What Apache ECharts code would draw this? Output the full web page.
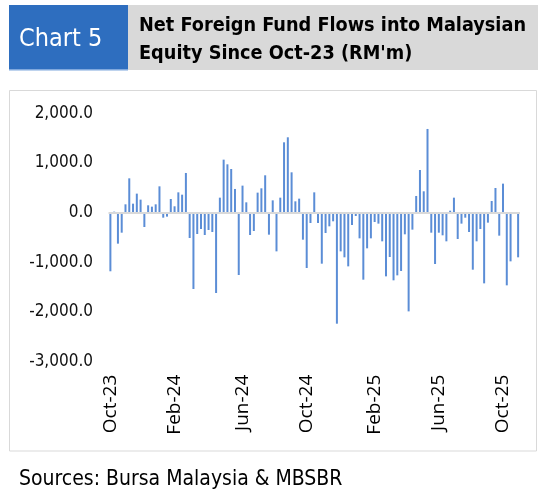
<!DOCTYPE html>
<html>
<head>
<meta charset="utf-8">
<script src="https://cdn.jsdelivr.net/npm/echarts@6/dist/echarts.min.js"></script>
<style>
html,body{margin:0;padding:0;background:#fff;}
#c{width:557px;height:499px;}
</style>
</head>
<body>
<div id="c"></div>
<script>
// Weekly net foreign fund flows (RM'm), first week Oct-23 onwards
var flows = [
  -1180, 20, -624, -403, 168, 691, 181, 383, 262, -289,
  148, 121, 168, 530, -101, -80, 275, 128, 409, 362,
  799, -510, -1537, -430, -329, -450, -349, -389, -1617, 302,
  1067, 973, 879, 477, -1255, 544, 208, -450, -369, 403,
  490, 752, -443, 248, -779, 302, 1416, 1517, 812, 228,
  282, -544, -1114, -208, 409, -208, -1027, -409, -275, -174,
  -2235, -779, -899, -1081, -248, -67, -517, -1349, -718, -517,
  -188, -221, -577, -1282, -893, -1362, -1262, -1174, -436, -1987,
  -342, 336, 859, 430, 1685, -403, -1034, -403, -456, -577,
  40, 302, -530, -221, -101, -389, -1148, -577, -329, -1423,
  -201, 235, 497, -463, 584, -1463, -980, -10, -899
];
var tickLabels = ['Oct-23', 'Feb-24', 'Jun-24', 'Oct-24', 'Feb-25', 'Jun-25', 'Oct-25'];
var tickIndex = [0, 17, 35, 52, 70, 87, 104];
var yTicks = [-3000, -2000, -1000, 0, 1000, 2000];

// weekly category dates
var weeks = [];
(function () {
  var d = new Date(Date.UTC(2023, 9, 6));
  for (var i = 0; i < flows.length; i++) {
    weeks.push(d.toISOString().slice(0, 10));
    d = new Date(d.getTime() + 7 * 86400000);
  }
})();

var FONT = "'DejaVu Sans Condensed', 'DejaVu Sans', sans-serif";
var chart = echarts.init(document.getElementById('c'), null, {renderer: 'canvas'});
chart.setOption({
  backgroundColor: '#ffffff',
  animation: false,
  graphic: [
    {type: 'rect', shape: {x: 9, y: 5, width: 119, height: 65}, style: {fill: '#2E6EBF'}},
    {type: 'rect', shape: {x: 9, y: 69, width: 119, height: 1.5}, style: {fill: '#7FA8DD'}},
    {type: 'rect', shape: {x: 128, y: 5, width: 410, height: 65}, style: {fill: '#D9D9D9'}},
    {type: 'text', x: 19, y: 39, style: {text: 'Chart 5', fill: '#ffffff', font: '25px ' + FONT, verticalAlign: 'middle'}},
    {type: 'text', x: 139, y: 26, style: {text: 'Net Foreign Fund Flows into Malaysian', fill: '#000000', font: 'bold 19.7px ' + FONT, verticalAlign: 'middle'}},
    {type: 'text', x: 139, y: 54, style: {text: "Equity Since Oct-23 (RM'm)", fill: '#000000', font: 'bold 19.7px ' + FONT, verticalAlign: 'middle'}},
    {type: 'rect', shape: {x: 9.5, y: 90.5, width: 527, height: 360.5}, style: {fill: 'none', stroke: '#D9D9D9', lineWidth: 1}},
    {type: 'text', x: 19, y: 480, style: {text: 'Sources: Bursa Malaysia & MBSBR', fill: '#000000', font: '21px ' + FONT, verticalAlign: 'middle'}}
  ],
  grid: {left: 108.5, right: 37, top: 113.3, bottom: 137.3, containLabel: false},
  xAxis: {
    type: 'category',
    data: weeks,
    axisLine: {show: false},
    axisTick: {show: false},
    splitLine: {show: false},
    axisLabel: {
      rotate: 90,
      margin: 13,
      color: '#000',
      fontSize: 19,
      fontFamily: "'Open Sans', 'Noto Sans', sans-serif",
      interval: function (idx) { return tickIndex.indexOf(idx) >= 0; },
      formatter: function (v, idx) {
        var k = tickIndex.indexOf(idx);
        return k >= 0 ? tickLabels[k] : '';
      }
    }
  },
  yAxis: {
    type: 'value',
    min: yTicks[0],
    max: yTicks[yTicks.length - 1],
    interval: 1000,
    axisLine: {show: false},
    axisTick: {show: false},
    splitLine: {show: false},
    axisLabel: {
      margin: 15.5,
      color: '#111',
      fontSize: 17,
      fontFamily: FONT,
      formatter: function (v) {
        return v.toLocaleString('en-US', {minimumFractionDigits: 1, maximumFractionDigits: 1});
      }
    }
  },
  series: [{
    type: 'bar',
    data: flows,
    barWidth: 2,
    itemStyle: {color: '#5B8DD6'},
    markLine: {
      silent: true,
      symbol: 'none',
      label: {show: false},
      lineStyle: {color: '#D9D9D9', width: 2, type: 'solid'},
      data: [{yAxis: 0}]
    }
  }]
});
</script>
</body>
</html>
